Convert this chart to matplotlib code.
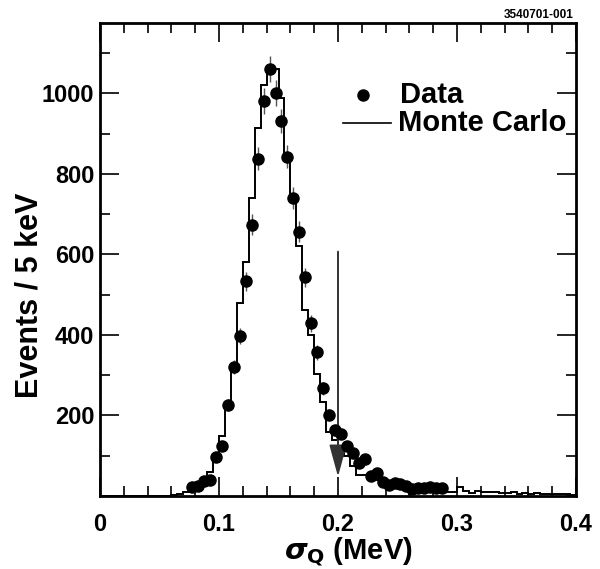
import numpy as np
import matplotlib
matplotlib.use("Agg")
import matplotlib.pyplot as plt
from matplotlib.lines import Line2D
from matplotlib.ticker import MultipleLocator

plt.rcParams['font.family'] = ['Liberation Sans', 'DejaVu Sans']
plt.rcParams['font.weight'] = 'bold'
plt.rcParams['mathtext.fontset'] = 'dejavusans'

# data points (bin centres, MeV) and counts per 5 keV
data_x = np.arange(0.0775, 0.2900, 0.005)
data_y = [22, 25, 37, 40, 97, 124, 225, 320, 397, 533,
          674, 838, 981, 1061, 1001, 932, 843, 741, 657, 543,
          429, 357, 268, 202, 163, 153, 124, 107, 82, 93,
          50, 57, 35, 27, 33, 30, 25, 17, 20, 20,
          22, 20, 20]

# Monte Carlo histogram, 5 keV bins from 0 to 0.4 MeV
mc_edges = np.linspace(0.0, 0.4, 81)
mc_counts = [1, 1, 1, 1, 1, 1, 1, 1, 1, 1, 1, 1,
             2, 4, 10, 15, 27, 38, 60, 85, 150, 232, 326, 480, 582,
             741, 914, 1021, 1061, 1061, 989, 843, 743, 620, 462,
             400, 302, 233, 160, 140, 110, 100, 75, 52, 52,
             45, 40, 30, 25, 22, 20, 18, 16, 15, 14,
             13, 12, 11, 10, 10, 22, 12, 8, 12, 10,
             9, 10, 8, 7, 9, 6, 8, 5, 7, 5,
             6, 4, 5, 4, 3]

cut_x = 0.2

fig = plt.figure(figsize=(6.0, 5.69), dpi=100)
ax = fig.add_axes([100/600, 1 - 496/569, 476/600, 473/569])

ax.stairs(mc_counts, mc_edges, color='black', lw=1.4)
ax.errorbar(data_x, data_y, yerr=np.sqrt(data_y), fmt='o', color='black',
            ms=8, ecolor='#555555', elinewidth=1.0, capsize=0, zorder=3)

# cut arrow
ax.annotate('', xy=(cut_x, 48), xytext=(cut_x, 607),
            arrowprops=dict(arrowstyle='-|>,head_length=1.1,head_width=0.3',
                            color='#333333', lw=1.4, mutation_scale=18,
                            shrinkA=0, shrinkB=0))

ax.set_xlim(0, 0.4)
ax.set_ylim(0, 1175)
ax.set_xticks([0, 0.1, 0.2, 0.3, 0.4])
ax.set_xticklabels(['0', '0.1', '0.2', '0.3', '0.4'])
ax.xaxis.set_minor_locator(MultipleLocator(0.02))
ax.set_yticks([200, 400, 600, 800, 1000])
ax.yaxis.set_minor_locator(MultipleLocator(100))
ax.tick_params(which='both', direction='in', top=True, right=True,
               labelsize=17, width=1.2)
ax.tick_params(which='major', length=14)
ax.tick_params(which='minor', length=7)
ax.tick_params(axis='x', pad=12)
ax.tick_params(axis='y', pad=4)
for s in ax.spines.values():
    s.set_linewidth(2)

fig.text(30/600, 1 - 295/569, 'Events / 5 keV', rotation=90, ha='center',
         va='center', fontsize=22, fontweight='bold')
fig.text(348/600, 1 - 551/569, r'$\sigma_{\mathbf{Q}}$ (MeV)', ha='center',
         va='center', fontsize=21, fontweight='bold')

# legend drawn by hand
fig.add_artist(Line2D([363/600], [1 - 95/569], marker='o', ls='none',
                      color='black', ms=8, transform=fig.transFigure))
fig.add_artist(Line2D([343/600, 391/600], [1 - 123/569, 1 - 123/569],
                      color='black', lw=1.2, transform=fig.transFigure))
fig.text(400/600, 1 - 95/569, 'Data', ha='left', va='center', fontsize=21,
         fontweight='bold')
fig.text(398/600, 1 - 123/569, 'Monte Carlo', ha='left', va='center',
         fontsize=21, fontweight='bold')

fig.text(574/600, 1 - 15/569, '3540701-001', ha='right', va='center',
         fontsize=8.5, fontweight='bold')

fig.savefig('out.png', dpi=100)
